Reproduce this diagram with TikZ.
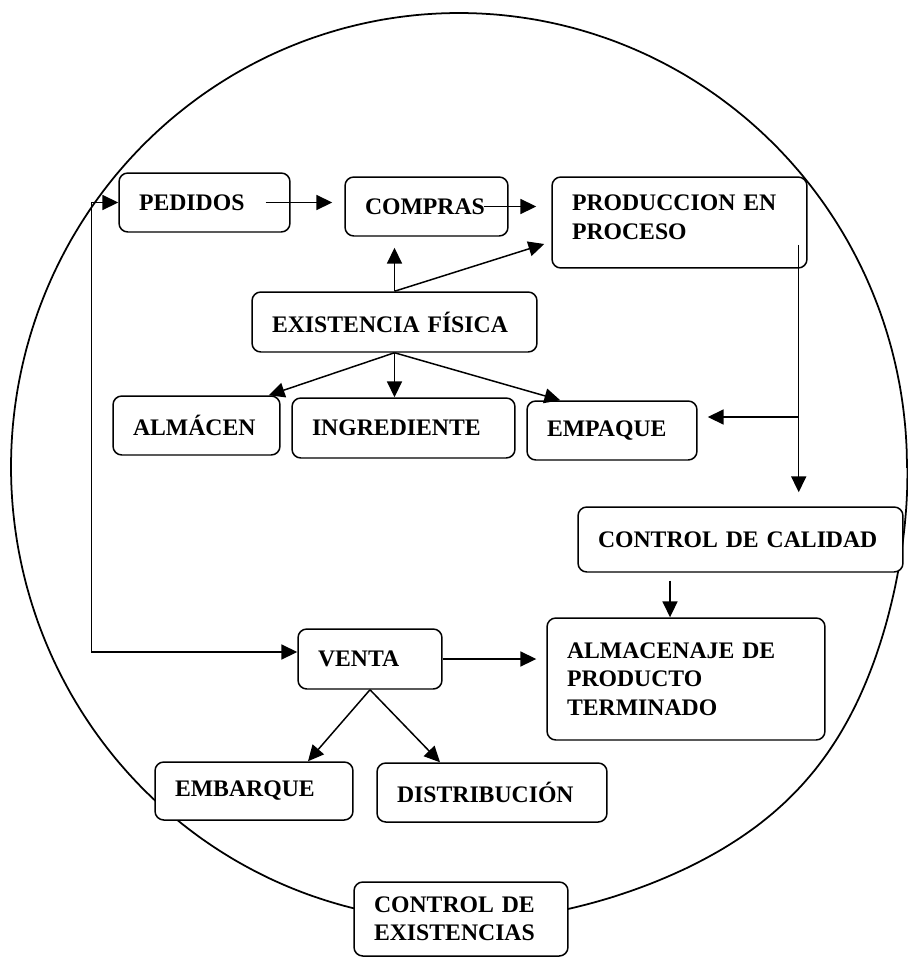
\documentclass[tikz,border=0pt]{standalone}
\usepackage{fontspec}
\setmainfont{Liberation Serif}
\usetikzlibrary{arrows.meta}
\begin{document}
\begin{tikzpicture}[x=0.02cm,y=-0.02cm,
        caja/.style={draw,line width=0.85pt,rounded corners=5pt,fill=white,align=left,inner xsep=0.4cm,inner ysep=0pt,font=\fontsize{13.5}{16.2}\selectfont\bfseries},
        flecha/.style={-{Triangle[length=9pt,width=8.5pt]},line width=0.85pt},
        dosflechas/.style={{Triangle[length=9pt,width=8.5pt]}-{Triangle[length=9pt,width=8.5pt]},line width=0.85pt}]
        \useasboundingbox (0,0) rectangle (908,960);
        \draw[line width=1pt] plot[domain=0:360,samples=145,smooth] ({459+(448+17*exp(-((\x-42)/22)^2))*cos(\x)},{467+(454+17*exp(-((\x-42)/22)^2))*sin(\x)}) -- cycle;
        \node[caja,text width=2.62cm,minimum height=1.18cm] (ped) at (204.5,202.5) {PEDIDOS};
        \node[caja,text width=2.46cm,minimum height=1.18cm] (comp) at (426.5,206.5) {COMPRAS};
        \node[caja,text width=4.30cm,minimum height=1.82cm] (prod) at (679.5,222.5) {PRODUCCION EN\\PROCESO\\[-10pt]\mbox{}};
        \node[caja,text width=4.90cm,minimum height=1.20cm] (exist) at (394.5,322) {EXISTENCIA FÍSICA};
        \node[caja,text width=2.54cm,minimum height=1.18cm] (alm) at (196.5,425.5) {ALMÁCEN};
        \node[caja,text width=3.66cm,minimum height=1.20cm] (ing) at (403.5,428) {INGREDIENTE};
        \node[caja,text width=2.60cm,minimum height=1.18cm] (emp) at (612,430.5) {EMPAQUE};
        \node[caja,text width=5.70cm,minimum height=1.30cm] (cal) at (740.5,539.5) {CONTROL DE CALIDAD};
        \node[caja,text width=4.76cm,minimum height=2.44cm] (alma) at (686,679) {ALMACENAJE DE\\PRODUCTO\\TERMINADO};
        \node[caja,text width=2.08cm,minimum height=1.20cm] (venta) at (370,659) {VENTA};
        \node[caja,text width=3.16cm,minimum height=1.16cm] (emb) at (254,791) {EMBARQUE};
        \node[caja,text width=3.80cm,minimum height=1.18cm] (dist) at (492,792.5) {DISTRIBUCIÓN};
        \node[caja,text width=3.48cm,minimum height=1.48cm] (ctrl) at (461,919) {CONTROL DE\\EXISTENCIAS};
        \draw[flecha] ([xshift=-0.5cm]ped.east) -- ([xshift=-0.24cm]comp.west |- ped.east);
        \draw[flecha] ([xshift=-0.5cm]comp.east) -- ([xshift=-0.3cm]prod.west |- comp.east);
        \draw[flecha] (exist.north) -- ([yshift=-0.22cm]comp.south -| exist.north);
        \draw[flecha] (exist.north) -- ([shift={(-0.14cm,-0.43cm)}]prod.west);
        \draw[flecha] (exist.south) -- ([xshift=-0.24cm]alm.north east);
        \draw[flecha] (exist.south) -- (exist.south |- ing.north);
        \draw[flecha] (exist.south) -- ([xshift=0.68cm]emp.north west);
        \coordinate (bajada) at ([shift={(-0.18cm,-0.45cm)}]prod.east);
        \coordinate (rama) at ([yshift=0.27cm]bajada |- emp.east);
        \draw[flecha] (bajada) -- ([yshift=0.28cm]bajada |- cal.north);
        \draw[flecha] (rama) -- ([xshift=0.2cm]emp.east |- rama);
        \draw[flecha] ([shift={(-1.41cm,-0.16cm)}]cal.south) -- ([xshift=-1.41cm]cal.south |- alma.north);
        \draw[flecha] (venta.east) -- ([xshift=-0.2cm]alma.west |- venta.east);
        \draw[flecha] (venta.south) -- ([xshift=1.08cm]emb.north);
        \draw[flecha] (venta.south) -- ([xshift=-1.04cm]dist.north);
        \draw[dosflechas] (ped.west) -- ++(-0.54cm,0) |- ([yshift=0.14cm]venta.west);
    \end{tikzpicture}
\end{document}
